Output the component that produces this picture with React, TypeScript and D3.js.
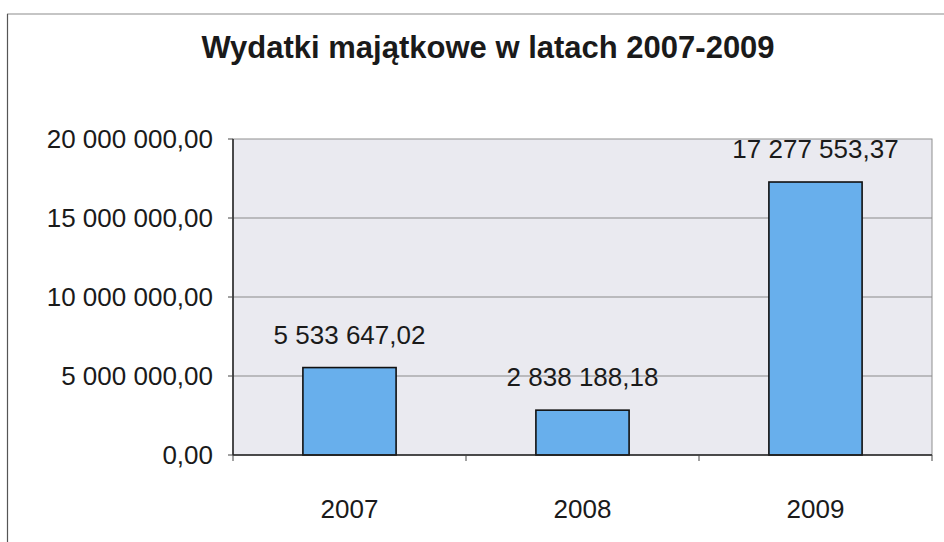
// @ts-nocheck
import * as d3 from "d3";
import React from "react";

const years = ["2007", "2008", "2009"];
const values = [5533647.02, 2838188.18, 17277553.37];
const yTicks = [0, 5000000, 10000000, 15000000, 20000000];
const title = "Wydatki majątkowe w latach 2007-2009";

const pl = d3.formatLocale({
  decimal: ",",
  thousands: " ",
  grouping: [3],
  currency: ["", " zł"],
});
const fmt = pl.format(",.2f");

const App = () => {
  const width = 944;
  const height = 542;
  const left = 233;
  const right = 932;
  const top = 139;
  const bottom = 455;
  const font = "Arial, 'Liberation Sans', sans-serif";

  const x = d3.scaleBand().domain(years).range([left, right]);
  const xBar = d3
    .scaleBand()
    .domain(years)
    .range([left, right])
    .paddingInner(0.6)
    .paddingOuter(0.3);
  const y = d3.scaleLinear().domain([0, 20000000]).range([bottom, top]);

  const bounds = [...years.map((d) => x(d)), right];

  return (
    <svg
      width={width}
      height={height}
      style={{ position: "absolute", left: 0, top: 0, background: "#fff" }}
    >
      {/* chart frame */}
      <line x1={7} y1={14} x2={width} y2={14} stroke="#8c8c8c" strokeWidth={1.2} />
      <line x1={7.5} y1={14} x2={7.5} y2={height} stroke="#555" strokeWidth={1.2} />

      <text
        x={488}
        y={58}
        textAnchor="middle"
        fontFamily={font}
        fontWeight="bold"
        fontSize={31}
        fill="#1a1a1a"
      >
        {title}
      </text>

      {/* plot area */}
      <rect
        x={left}
        y={top}
        width={right - left}
        height={bottom - top}
        fill="#eaeaf0"
        stroke="#8f8f8f"
        strokeWidth={1}
      />
      {yTicks.slice(1, -1).map((t) => (
        <line
          key={t}
          x1={left}
          x2={right}
          y1={y(t)}
          y2={y(t)}
          stroke="#8a8a8a"
          strokeWidth={1}
        />
      ))}

      {/* bars */}
      {values.map((v, i) => (
        <rect
          key={years[i]}
          x={xBar(years[i])}
          y={y(v)}
          width={xBar.bandwidth()}
          height={bottom - y(v)}
          fill="#68afec"
          stroke="#111"
          strokeWidth={1.6}
        />
      ))}

      {/* axes */}
      <line x1={left} x2={left} y1={top} y2={bottom} stroke="#222" strokeWidth={1.5} />
      <line x1={left} x2={right} y1={bottom} y2={bottom} stroke="#222" strokeWidth={1.5} />
      {yTicks.map((t) => (
        <g key={t}>
          <line x1={left - 5} x2={left} y1={y(t)} y2={y(t)} stroke="#444" />
          <text
            x={213}
            y={y(t)}
            dy="0.36em"
            textAnchor="end"
            fontFamily={font}
            fontSize={26}
            fill="#1a1a1a"
          >
            {fmt(t)}
          </text>
        </g>
      ))}
      {bounds.map((b, i) => (
        <line key={i} x1={b} x2={b} y1={bottom} y2={bottom + 6} stroke="#444" />
      ))}
      {years.map((d) => (
        <text
          key={d}
          x={x(d) + x.bandwidth() / 2}
          y={518}
          textAnchor="middle"
          fontFamily={font}
          fontSize={26}
          fill="#1a1a1a"
        >
          {d}
        </text>
      ))}

      {/* data labels */}
      {values.map((v, i) => (
        <text
          key={"l" + years[i]}
          x={x(years[i]) + x.bandwidth() / 2}
          y={y(v) - 24}
          textAnchor="middle"
          fontFamily={font}
          fontSize={26}
          fill="#1a1a1a"
        >
          {fmt(v)}
        </text>
      ))}
    </svg>
  );
};

export default App;
